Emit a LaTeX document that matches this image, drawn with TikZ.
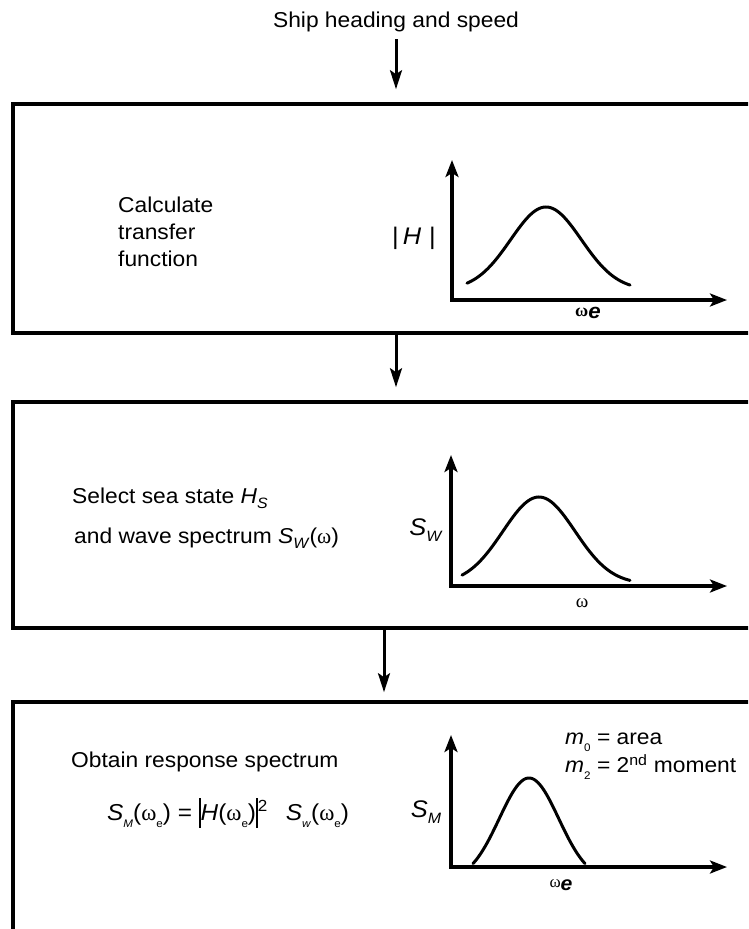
\documentclass[tikz,border=0pt]{standalone}
\usepackage{fontspec}
\setmainfont{Liberation Sans}[FakeStretch=1.06]
\newfontfamily\grk{Liberation Serif}
\usetikzlibrary{arrows.meta}
\newcommand\mysub[1]{\raisebox{-0.45ex}{\fontsize{15}{15}\selectfont #1}}
\newcommand\tinysub[1]{\raisebox{-0.6ex}{\fontsize{11}{11}\selectfont #1}}
\newcommand\mybar{\rule[-0.32em]{1.8pt}{1.3em}}
\begin{document}
\begin{tikzpicture}[x=1pt,y=-1pt,
  box/.style={draw, line width=3.6pt, minimum width=760pt, inner sep=0pt},
  conn/.style={line width=3pt, -{Stealth[length=19pt,width=12pt,inset=4pt]}},
  axis/.style={line width=3.2pt, line join=miter,
    {Stealth[length=17pt,width=13pt,inset=4pt]}-{Stealth[length=17pt,width=13pt,inset=4pt]}},
  curve/.style={line width=3pt, line cap=round},
  txt/.style={font=\fontsize{21.5}{27}\selectfont, inner sep=0pt, align=left, anchor=west},
  lbl/.style={inner sep=0pt}]
\useasboundingbox (0,0) rectangle (748,929);
\clip (0,0) rectangle (748,929);

% boxes
\node[box, minimum height=229pt] (b1) at (393,218.5) {};
\node[box, minimum height=226pt] (b2) at (393,515) {};
\node[box, minimum height=243pt] (b3) at (393,823.5) {};

% title and connectors
\node[lbl, font=\fontsize{21.5}{24}\selectfont] (title) at (396,22) {Ship heading and speed};
\coordinate (a1) at (396,0);
\coordinate (a2) at (384,0);
\draw[conn, shorten <=7pt, shorten >=13pt] (title.south) -- (title.south |- b1.north);
\draw[conn, shorten >=13pt] (b1.south -| a1) -- (b2.north -| a1);
\draw[conn, shorten >=8pt] (b2.south -| a2) -- (b3.north -| a2);

% box 1
\node[txt] (t1) at (118,232) {Calculate\\transfer\\function};
\draw[axis] (452,160) -- (452,300) -- (727,300);
\draw[curve] plot[domain=467:630, samples=80, smooth] (\x, {290 - 83*exp(-(((\x-546)/50)^2))});
\node[lbl, font=\fontsize{24}{24}\selectfont] (lh) at (414,238) {|\,\textit{H}\,\,|};
\node[lbl] (we1) at (588,313) {{\fontsize{18}{18}\selectfont\bfseries\grk ω}\raisebox{-0.25em}{\fontsize{21}{21}\selectfont\bfseries\itshape e}};

% box 2
\node[txt] (t2a) at (72,498) {Select sea state \textit{H}\mysub{\textit{S}}};
\node[txt] (t2b) at (74,538) {and wave spectrum \textit{S}\mysub{\textit{W}}({\grk ω})};
\draw[axis] (451,455) -- (451,586) -- (727,586);
\draw[curve] plot[domain=462:630, samples=80, smooth] (\x, {584 - 87*exp(-(((\x-539)/51)^2))});
\node[lbl, font=\fontsize{24}{24}\selectfont] (lsw) at (426,530) {\textit{S}\mysub{\textit{W}}};
\node[lbl, font=\fontsize{19}{19}\selectfont] (w2) at (582,603) {\grk ω};

% box 3
\node[txt] (t3a) at (71,762) {Obtain response spectrum};
\node[txt, font=\fontsize{23}{27}\selectfont] (t3b) at (107,813) {\textit{S}\tinysub{\textit{M}}({\grk ω}\tinysub{e}) = \mybar\textit{H}({\grk ω}\tinysub{e})\mybar\textsuperscript{2}\hspace{18pt}\textit{S}\tinysub{\textit{w}}({\grk ω}\tinysub{e})};
\draw[axis] (451,735) -- (451,867) -- (727,867);
\draw[curve] plot[domain=473:585, samples=80, smooth] (\x, {881 - 103*exp(-(((\x-529)/42)^2))});
\node[lbl, font=\fontsize{24}{24}\selectfont] (lsm) at (426,812) {\textit{S}\mysub{\textit{M}}};
\node[lbl] (we3) at (561,885) {{\fontsize{17}{17}\selectfont\grk ω}\raisebox{-0.3em}{\fontsize{20}{20}\selectfont\bfseries\itshape e}};
\node[txt] (m0) at (565,742) {\textit{m}\tinysub{0} = area};
\node[txt] (m2) at (565,767) {\textit{m}\tinysub{2} = 2\textsuperscript{nd} moment};
\end{tikzpicture}
\end{document}
